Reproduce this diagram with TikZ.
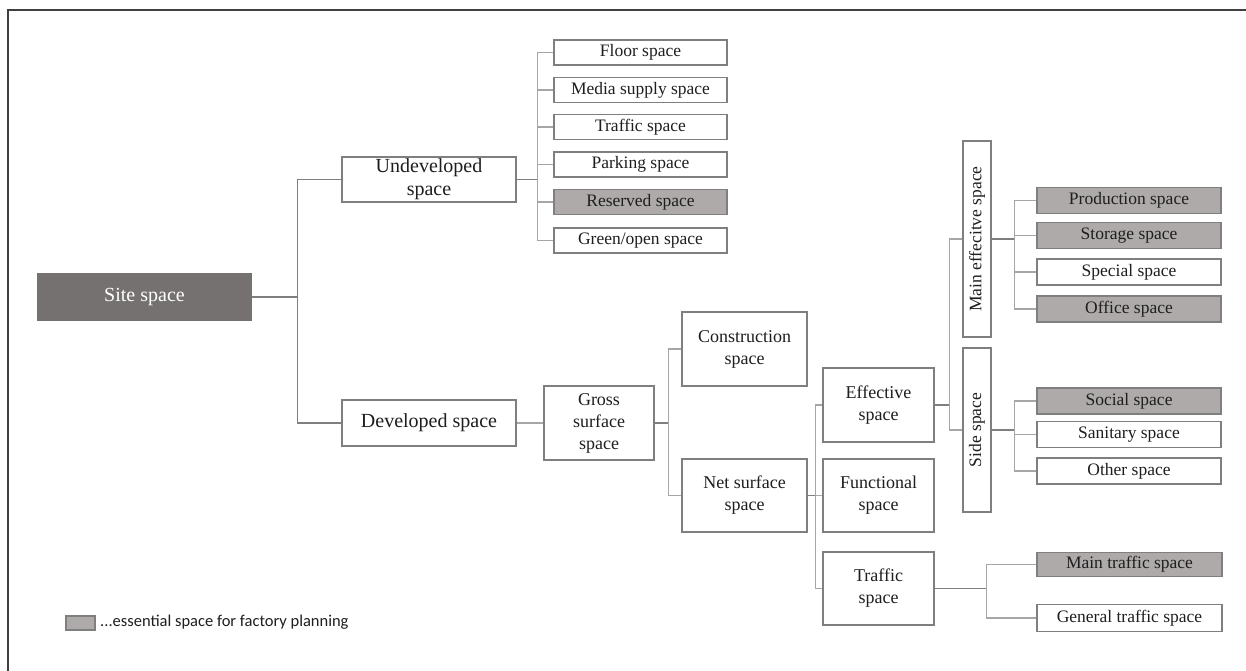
\documentclass[tikz,border=0pt]{standalone}
\usepackage{fontspec}
\setmainfont{Liberation Serif}
\newfontfamily\legendfont{Carlito}
\definecolor{boxline}{HTML}{7F7F7F}
\definecolor{connline}{HTML}{A6A6A6}
\definecolor{essfill}{HTML}{AEAAAA}
\definecolor{sitefill}{HTML}{767171}
\definecolor{txt}{HTML}{1E1E1E}
\definecolor{framecol}{HTML}{404040}
\tikzset{
  box/.style={draw=boxline, line width=1.4pt, fill=white, rectangle, inner sep=0pt, align=center, text=txt},
  ess/.style={box, fill=essfill},
  big/.style={font=\fontsize{20}{23}\selectfont},
  mid/.style={font=\fontsize{18}{22}\selectfont},
  small/.style={font=\fontsize{17.5}{20}\selectfont},
  conn/.style={draw=connline, line width=1.1pt},
  pconn/.style={draw=boxline, line width=1.1pt},
}
\begin{document}
\begin{tikzpicture}[x=1pt,y=-1pt]
\useasboundingbox (0,0) rectangle (1246,671);
\draw[framecol, line width=1.6pt] (8,671) -- (8,10) -- (1246,10);

% level 0 / 1
\node[box, big, fill=sitefill, draw=sitefill, text=white, minimum width=213, minimum height=46] (site) at (144.5,297) {Site space};
\node[box, big, minimum width=174, minimum height=45] (undev) at (429,179.5) {Undeveloped\\space};
\node[box, big, minimum width=174, minimum height=46] (dev) at (429,423) {Developed space};

% undeveloped children
\node[box, small, minimum width=173, minimum height=25] (floor) at (640.5,52.5) {Floor space};
\node[box, small, minimum width=173, minimum height=25] (media) at (640.5,90) {Media supply space};
\node[box, small, minimum width=173, minimum height=25] (utraf) at (640.5,127) {Traffic space};
\node[box, small, minimum width=173, minimum height=25] (park) at (640.5,164.5) {Parking space};
\node[ess, small, minimum width=173, minimum height=25] (resv) at (640.5,202) {Reserved space};
\node[box, small, minimum width=173, minimum height=25] (green) at (640.5,240.5) {Green/open space};

% developed branch
\node[box, mid, minimum width=110, minimum height=74] (gross) at (599,423) {Gross\\surface\\space};
\node[box, mid, minimum width=125, minimum height=74] (constr) at (744.5,349) {Construction\\space};
\node[box, mid, minimum width=125, minimum height=73] (net) at (744.5,495.5) {Net surface\\space};
\node[box, mid, minimum width=111, minimum height=74] (eff) at (878.5,405) {Effective\\space};
\node[box, mid, minimum width=111, minimum height=73] (func) at (878.5,495.5) {Functional\\space};
\node[box, mid, minimum width=111, minimum height=73] (traf) at (878.5,588.5) {Traffic\\space};

% vertical boxes
\node[box, minimum width=28, minimum height=196] (main) at (977,239) {};
\node[small, rotate=90, text=txt] (mainlbl) at (main.center) {Main effecitve space};
\node[box, minimum width=28, minimum height=164] (side) at (977,430) {};
\node[small, rotate=90, text=txt] (sidelbl) at (side.center) {Side space};

% main effective children
\node[ess, small, minimum width=184, minimum height=26] (prod) at (1129,200.5) {Production space};
\node[ess, small, minimum width=184, minimum height=26] (stor) at (1129,235.5) {Storage space};
\node[box, small, minimum width=184, minimum height=26] (spec) at (1129,272) {Special space};
\node[ess, small, minimum width=184, minimum height=26] (office) at (1129,309) {Office space};

% side children
\node[ess, small, minimum width=184, minimum height=26] (social) at (1129,401) {Social space};
\node[box, small, minimum width=184, minimum height=26] (sanit) at (1129,434.5) {Sanitary space};
\node[box, small, minimum width=184, minimum height=26] (other) at (1129,471) {Other space};

% traffic children
\node[ess, small, minimum width=185, minimum height=24] (maintraf) at (1129.5,564.5) {Main traffic space};
\node[box, small, minimum width=185, minimum height=27] (gentraf) at (1129.5,618) {General traffic space};

% connectors
\draw[pconn] (site.east) -- ++(46,0) |- (undev.west);
\draw[pconn] (site.east) -- ++(46,0) |- (dev.west);

\draw[pconn] (undev.east) -- ++(21,0);
\foreach \c in {floor,media,utraf,park,resv,green}
  \draw[conn] (undev.east) ++(21,0) |- (\c.west);

\draw[conn] (dev.east) -- (gross.west);
\draw[pconn] (gross.east) -- ++(14,0);
\foreach \c in {constr,net}
  \draw[conn] (gross.east) ++(14,0) |- (\c.west);

\draw[pconn] (net.east) -- ++(8,0);
\foreach \c in {eff,func,traf}
  \draw[conn] (net.east) ++(8,0) |- (\c.west);

\draw[pconn] (eff.east) -- ++(15,0);
\foreach \c in {main,side}
  \draw[conn] (eff.east) ++(15,0) |- (\c.west);

\draw[pconn] (main.east) -- ++(23,0);
\foreach \c in {prod,stor,spec,office}
  \draw[conn] (main.east) ++(23,0) |- (\c.west);

\draw[pconn] (side.east) -- ++(23,0);
\foreach \c in {social,sanit,other}
  \draw[conn] (side.east) ++(23,0) |- (\c.west);

\draw[pconn] (traf.east) -- ++(52,0);
\foreach \c in {maintraf,gentraf}
  \draw[conn] (traf.east) ++(52,0) |- (\c.west);

% legend
\node[ess, line width=1.2pt, minimum width=29, minimum height=14] (legbox) at (80.5,623) {};
\node[anchor=west, inner sep=0pt, text=txt, font=\legendfont\fontsize{16.5}{19}\selectfont] (legtxt) at (100,622) {...essential space for factory planning};
\end{tikzpicture}
\end{document}
